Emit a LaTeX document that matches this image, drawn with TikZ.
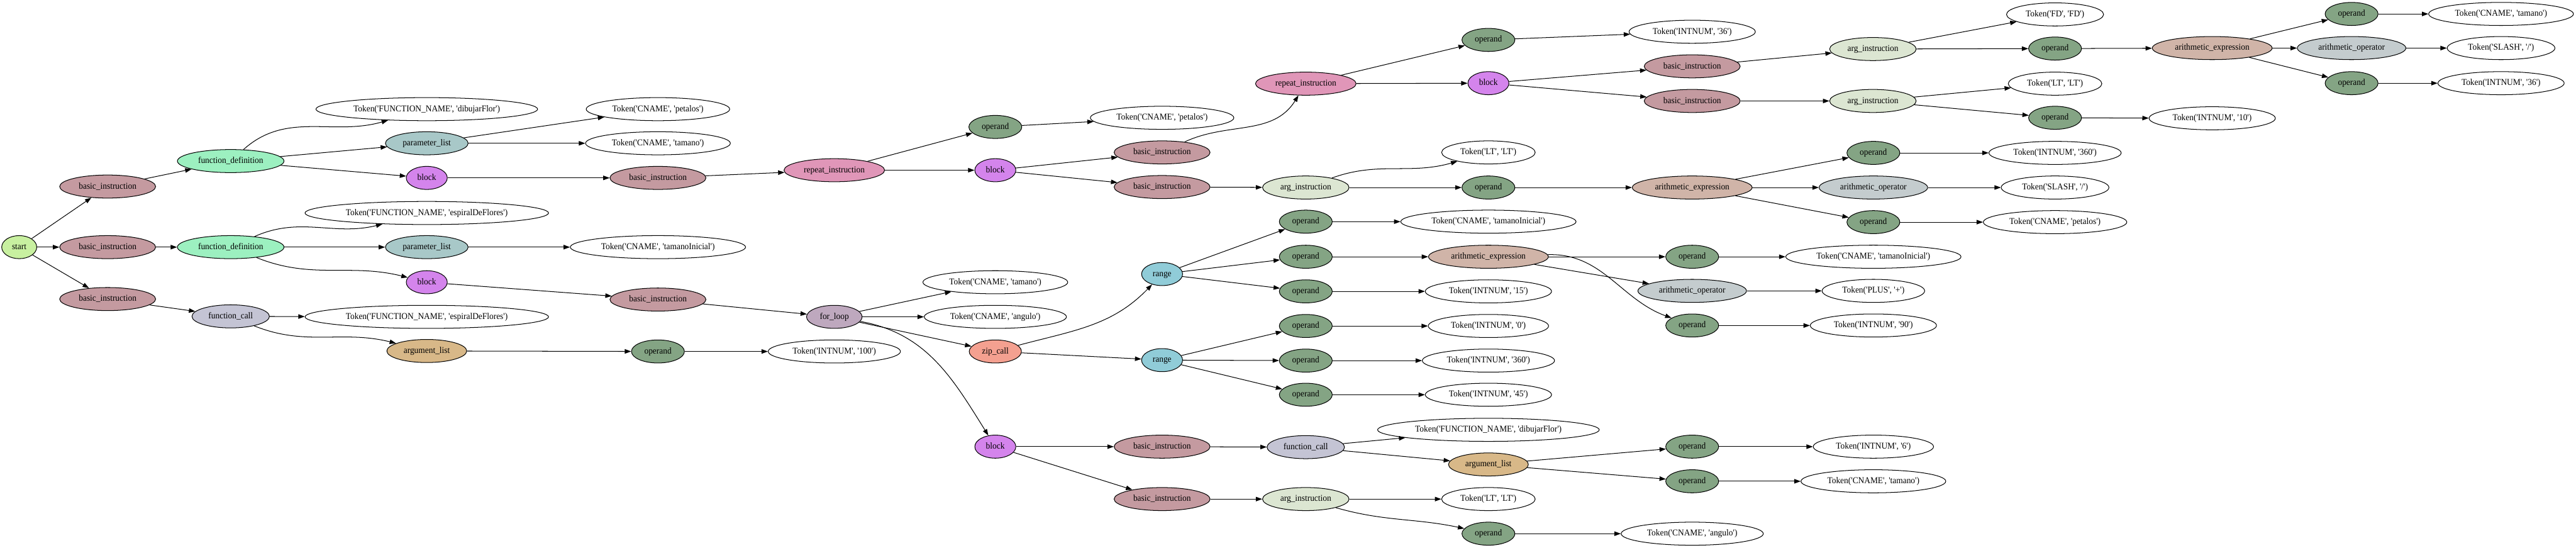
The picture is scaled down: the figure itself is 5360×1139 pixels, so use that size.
\documentclass[tikz,border=0pt]{standalone}
\usepackage{fontspec}
\setmainfont{Liberation Serif}[Ligatures=TeXOff,FakeStretch=0.94]
\usetikzlibrary{shapes.geometric}
\usetikzlibrary{arrows.meta}
\definecolor{cstart}{RGB}{200,240,160}
\definecolor{cbasic}{RGB}{196,154,160}
\definecolor{cfuncdef}{RGB}{156,240,192}
\definecolor{cparam}{RGB}{168,200,200}
\definecolor{cblock}{RGB}{212,132,236}
\definecolor{cfcall}{RGB}{196,196,212}
\definecolor{carglist}{RGB}{216,184,136}
\definecolor{coperand}{RGB}{132,164,132}
\definecolor{crepeat}{RGB}{224,150,184}
\definecolor{cfor}{RGB}{190,168,190}
\definecolor{czip}{RGB}{244,160,144}
\definecolor{crange}{RGB}{144,204,216}
\definecolor{carginst}{RGB}{220,230,210}
\definecolor{carith}{RGB}{208,180,168}
\definecolor{carithop}{RGB}{196,204,206}
\tikzset{
  gv/.style          = { ellipse, draw=black, line width=1pt, minimum width=54pt,
                         minimum height=36pt, inner xsep=8pt, inner ysep=3pt,
                         text height=10pt, text depth=3pt, font=\fontsize{14}{16}\selectfont },
  token/.style       = { gv, fill=white },
  startnode/.style   = { gv, fill=cstart },
  basicinst/.style   = { gv, fill=cbasic },
  funcdef/.style     = { gv, fill=cfuncdef },
  paramlist/.style   = { gv, fill=cparam },
  blocknode/.style   = { gv, fill=cblock },
  funccall/.style    = { gv, fill=cfcall },
  arglist/.style     = { gv, fill=carglist },
  operandnode/.style = { gv, fill=coperand },
  repeatinst/.style  = { gv, fill=crepeat },
  forloop/.style     = { gv, fill=cfor },
  zipcall/.style     = { gv, fill=czip },
  rangenode/.style   = { gv, fill=crange },
  arginst/.style     = { gv, fill=carginst },
  arithexpr/.style   = { gv, fill=carith },
  arithop/.style     = { gv, fill=carithop }
}
\begin{document}
\begin{tikzpicture}[
  x=0.75pt,y=-0.75pt,
  >={Triangle[length=10pt,width=7pt]},line width=1pt
]
  \useasboundingbox (0,0) rectangle (5360,1139);

  % program level
  \node (start) [startnode] at (40,514)  {start};
  \node (bi1)   [basicinst] at (224,388) {basic\_instruction};
  \node (bi2)   [basicinst] at (224,514) {basic\_instruction};
  \node (bi3)   [basicinst] at (224,622) {basic\_instruction};
  \node (fd1)   [funcdef]   at (480,335) {function\_definition};
  \node (fd2)   [funcdef]   at (480,514) {function\_definition};
  \node (fc1)   [funccall]  at (480,658) {function\_call};

  \node (fnA)  [token]     at (888,227) {Token('FUNCTION\_NAME', 'dibujarFlor')};
  \node (plA)  [paramlist] at (888,298) {parameter\_list};
  \node (blkA) [blocknode] at (888,370) {block};
  \node (fnB)  [token]     at (888,443) {Token('FUNCTION\_NAME', 'espiralDeFlores')};
  \node (plB)  [paramlist] at (888,514) {parameter\_list};
  \node (blkB) [blocknode] at (888,587) {block};
  \node (fnC)  [token]     at (888,659) {Token('FUNCTION\_NAME', 'espiralDeFlores')};
  \node (alA)  [arglist]   at (888,730) {argument\_list};

  \node (pA1)  [token]       at (1369,227) {Token('CNAME', 'petalos')};
  \node (pA2)  [token]       at (1369,298) {Token('CNAME', 'tamano')};
  \node (biA)  [basicinst]   at (1369,370) {basic\_instruction};
  \node (pB1)  [token]       at (1369,514) {Token('CNAME', 'tamanoInicial')};
  \node (biB)  [basicinst]   at (1369,623) {basic\_instruction};
  \node (opA)  [operandnode] at (1369,731) {operand};

  \node (rep1) [repeatinst] at (1736,354) {repeat\_instruction};
  \node (for1) [forloop]    at (1736,659) {for\_loop};
  \node (t100) [token]      at (1736,731) {Token('INTNUM', '100')};

  % repeat / for bodies
  \node (opR1)  [operandnode] at (2071,264) {operand};
  \node (blkR1) [blocknode]   at (2071,354) {block};
  \node (tTam)  [token]       at (2071,587) {Token('CNAME', 'tamano')};
  \node (tAng)  [token]       at (2071,659) {Token('CNAME', 'angulo')};
  \node (zip)   [zipcall]     at (2071,731) {zip\_call};
  \node (blkF)  [blocknode]   at (2071,929) {block};

  \node (tPet) [token]     at (2418,245)  {Token('CNAME', 'petalos')};
  \node (biR1) [basicinst] at (2418,317)  {basic\_instruction};
  \node (biR2) [basicinst] at (2418,389)  {basic\_instruction};
  \node (rng1) [rangenode] at (2418,570)  {range};
  \node (rng2) [rangenode] at (2418,749)  {range};
  \node (biF1) [basicinst] at (2418,929)  {basic\_instruction};
  \node (biF2) [basicinst] at (2418,1038) {basic\_instruction};

  \node (rep2)   [repeatinst]  at (2717,174)  {repeat\_instruction};
  \node (argA)   [arginst]     at (2717,390)  {arg\_instruction};
  \node (opRg1a) [operandnode] at (2717,461)  {operand};
  \node (opRg1b) [operandnode] at (2717,534)  {operand};
  \node (opRg1c) [operandnode] at (2717,606)  {operand};
  \node (opRg2a) [operandnode] at (2717,678)  {operand};
  \node (opRg2b) [operandnode] at (2717,750)  {operand};
  \node (opRg2c) [operandnode] at (2717,821)  {operand};
  \node (fcF)    [funccall]    at (2717,930)  {function\_call};
  \node (argB)   [arginst]     at (2717,1038) {arg\_instruction};

  \node (opR2)   [operandnode] at (3097,83)   {operand};
  \node (blkR2)  [blocknode]   at (3097,173)  {block};
  \node (ltA)    [token]       at (3097,317)  {Token('LT', 'LT')};
  \node (opArgA) [operandnode] at (3097,390)  {operand};
  \node (tTamI)  [token]       at (3097,461)  {Token('CNAME', 'tamanoInicial')};
  \node (arA)    [arithexpr]   at (3097,534)  {arithmetic\_expression};
  \node (t15)    [token]       at (3097,606)  {Token('INTNUM', '15')};
  \node (t0)     [token]       at (3097,678)  {Token('INTNUM', '0')};
  \node (t360a)  [token]       at (3097,750)  {Token('INTNUM', '360')};
  \node (t45)    [token]       at (3097,821)  {Token('INTNUM', '45')};
  \node (fnD)    [token]       at (3097,894)  {Token('FUNCTION\_NAME', 'dibujarFlor')};
  \node (alB)    [arglist]     at (3097,966)  {argument\_list};
  \node (ltB)    [token]       at (3097,1038) {Token('LT', 'LT')};
  \node (opArgB) [operandnode] at (3097,1110) {operand};

  \node (t36a)   [token]       at (3521,66)   {Token('INTNUM', '36')};
  \node (biR3)   [basicinst]   at (3521,138)  {basic\_instruction};
  \node (biR4)   [basicinst]   at (3521,210)  {basic\_instruction};
  \node (arB)    [arithexpr]   at (3521,390)  {arithmetic\_expression};
  \node (opArA1) [operandnode] at (3521,534)  {operand};
  \node (aopA)   [arithop]     at (3521,605)  {arithmetic\_operator};
  \node (opArA3) [operandnode] at (3521,677)  {operand};
  \node (opAl1)  [operandnode] at (3521,929)  {operand};
  \node (opAl2)  [operandnode] at (3521,1001) {operand};
  \node (tAng2)  [token]       at (3521,1110) {Token('CNAME', 'angulo')};

  \node (argC)   [arginst]     at (3897,102)  {arg\_instruction};
  \node (argD)   [arginst]     at (3897,210)  {arg\_instruction};
  \node (opArB1) [operandnode] at (3898,318)  {operand};
  \node (aopB)   [arithop]     at (3898,390)  {arithmetic\_operator};
  \node (opArB3) [operandnode] at (3898,462)  {operand};
  \node (tTamI2) [token]       at (3898,534)  {Token('CNAME', 'tamanoInicial')};
  \node (tPlus)  [token]       at (3898,605)  {Token('PLUS', '+')};
  \node (t90)    [token]       at (3898,677)  {Token('INTNUM', '90')};
  \node (t6)     [token]       at (3898,929)  {Token('INTNUM', '6')};
  \node (tTam2)  [token]       at (3898,1001) {Token('CNAME', 'tamano')};

  \node (tFD)     [token]       at (4276,30)  {Token('FD', 'FD')};
  \node (opArgC)  [operandnode] at (4276,101) {operand};
  \node (ltC)     [token]       at (4276,174) {Token('LT', 'LT')};
  \node (opArgD)  [operandnode] at (4276,245) {operand};
  \node (t360b)   [token]       at (4276,318) {Token('INTNUM', '360')};
  \node (tSlashA) [token]       at (4276,390) {Token('SLASH', '/')};
  \node (tPet2)   [token]       at (4276,462) {Token('CNAME', 'petalos')};

  \node (arC)     [arithexpr]   at (4603,100) {arithmetic\_expression};
  \node (t10)     [token]       at (4603,246) {Token('INTNUM', '10')};
  \node (opArC1)  [operandnode] at (4893,29)  {operand};
  \node (aopC)    [arithop]     at (4893,100) {arithmetic\_operator};
  \node (opArC3)  [operandnode] at (4893,173) {operand};
  \node (tTam3)   [token]       at (5204,29)  {Token('CNAME', 'tamano')};
  \node (tSlashB) [token]       at (5204,100) {Token('SLASH', '/')};
  \node (t36b)    [token]       at (5204,173) {Token('INTNUM', '36')};

  % edges
  \draw [->] (start) -- (bi1);
  \draw [->] (start) -- (bi2);
  \draw [->] (start) -- (bi3);
  \draw [->] (bi1) -- (fd1);
  \draw [->] (bi2) -- (fd2);
  \draw [->] (bi3) -- (fc1);
  \draw [->] (fd1) to[out=42,in=196] (fnA);
  \draw [->] (fd1) -- (plA);
  \draw [->] (fd1) -- (blkA);
  \draw [->] (fd2) to[out=24,in=194] (fnB);
  \draw [->] (fd2) -- (plB);
  \draw [->] (fd2) to[out=-22,in=166] (blkB);
  \draw [->] (fc1) -- (fnC);
  \draw [->] (fc1) to[out=-22,in=166] (alA);
  \draw [->] (plA) -- (pA1);
  \draw [->] (plA) -- (pA2);
  \draw [->] (blkA) -- (biA);
  \draw [->] (plB) -- (pB1);
  \draw [->] (blkB) -- (biB);
  \draw [->] (alA) -- (opA);
  \draw [->] (opA) -- (t100);
  \draw [->] (biA) -- (rep1);
  \draw [->] (biB) -- (for1);

  \draw [->] (rep1) -- (opR1);
  \draw [->] (rep1) -- (blkR1);
  \draw [->] (opR1) -- (tPet);
  \draw [->] (blkR1) -- (biR1);
  \draw [->] (blkR1) -- (biR2);
  \draw [->] (biR1) to[out=25,in=238] (rep2);
  \draw [->] (biR2) -- (argA);
  \draw [->] (for1) -- (tTam);
  \draw [->] (for1) -- (tAng);
  \draw [->] (for1) -- (zip);
  \draw [->] (for1) to[out=-10,in=122] (blkF);
  \draw [->] (zip) to[out=15,in=226] (rng1);
  \draw [->] (zip) -- (rng2);
  \draw [->] (blkF) -- (biF1);
  \draw [->] (blkF) -- (biF2);
  \draw [->] (rng1) -- (opRg1a);
  \draw [->] (rng1) -- (opRg1b);
  \draw [->] (rng1) -- (opRg1c);
  \draw [->] (rng2) -- (opRg2a);
  \draw [->] (rng2) -- (opRg2b);
  \draw [->] (rng2) -- (opRg2c);
  \draw [->] (biF1) -- (fcF);
  \draw [->] (biF2) -- (argB);

  \draw [->] (rep2) -- (opR2);
  \draw [->] (rep2) -- (blkR2);
  \draw [->] (opR2) -- (t36a);
  \draw [->] (blkR2) -- (biR3);
  \draw [->] (blkR2) -- (biR4);
  \draw [->] (argA) to[out=20,in=196] (ltA);
  \draw [->] (argA) -- (opArgA);
  \draw [->] (opArgA) -- (arB);
  \draw [->] (opRg1a) -- (tTamI);
  \draw [->] (opRg1b) -- (arA);
  \draw [->] (opRg1c) -- (t15);
  \draw [->] (opRg2a) -- (t0);
  \draw [->] (opRg2b) -- (t360a);
  \draw [->] (opRg2c) -- (t45);
  \draw [->] (fcF) -- (fnD);
  \draw [->] (fcF) -- (alB);
  \draw [->] (argB) -- (ltB);
  \draw [->] (argB) to[out=-16,in=168] (opArgB);
  \draw [->] (opArgB) -- (tAng2);

  \draw [->] (arA) -- (opArA1);
  \draw [->] (arA) -- (aopA);
  \draw [->] (arA) to[out=2,in=160] (opArA3);
  \draw [->] (alB) -- (opAl1);
  \draw [->] (alB) -- (opAl2);
  \draw [->] (opArA1) -- (tTamI2);
  \draw [->] (aopA) -- (tPlus);
  \draw [->] (opArA3) -- (t90);
  \draw [->] (opAl1) -- (t6);
  \draw [->] (opAl2) -- (tTam2);
  \draw [->] (biR3) -- (argC);
  \draw [->] (biR4) -- (argD);
  \draw [->] (arB) -- (opArB1);
  \draw [->] (arB) -- (aopB);
  \draw [->] (arB) -- (opArB3);
  \draw [->] (opArB1) -- (t360b);
  \draw [->] (aopB) -- (tSlashA);
  \draw [->] (opArB3) -- (tPet2);

  \draw [->] (argC) -- (tFD);
  \draw [->] (argC) -- (opArgC);
  \draw [->] (argD) -- (ltC);
  \draw [->] (argD) -- (opArgD);
  \draw [->] (opArgC) -- (arC);
  \draw [->] (opArgD) -- (t10);
  \draw [->] (arC) -- (opArC1);
  \draw [->] (arC) -- (aopC);
  \draw [->] (arC) -- (opArC3);
  \draw [->] (opArC1) -- (tTam3);
  \draw [->] (aopC) -- (tSlashB);
  \draw [->] (opArC3) -- (t36b);
\end{tikzpicture}
\end{document}
